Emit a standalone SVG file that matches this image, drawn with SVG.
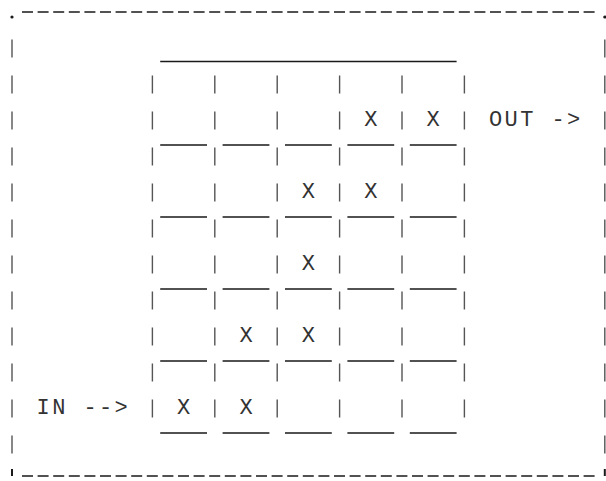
<svg xmlns="http://www.w3.org/2000/svg" width="606" height="481" viewBox="0 0 606 481">
<style>
.bg{fill:#fff}
.dash{stroke:#1a1a1a;stroke-width:1.6;stroke-dasharray:11 4.6;fill:none}
.pipe{stroke:#555;stroke-width:1.4;stroke-dasharray:18 18;fill:none}
.bar{stroke:#1a1a1a;stroke-width:1.5;fill:none}
.tick{stroke:#1a1a1a;stroke-width:2;fill:none}
.over{stroke:#1a1a1a;stroke-width:1.5;stroke-dasharray:46.8 15.6;fill:none}
.t{font-family:"Liberation Mono","DejaVu Sans Mono",monospace;font-size:22px;fill:#333;text-anchor:middle}
</style>
<rect class="bg" width="606" height="481"/>
<g id="frame">
  <line class="dash" x1="22" y1="12" x2="594.6" y2="12"/>
  <line class="dash" x1="22" y1="476" x2="594.6" y2="476"/>
  <circle cx="12" cy="17" r="1.6" fill="#1a1a1a"/>
  <circle cx="604.8" cy="17" r="1.6" fill="#1a1a1a"/>
  <line class="tick" x1="12" y1="469" x2="12" y2="476"/>
  <line class="tick" x1="604.8" y1="469" x2="604.8" y2="476"/>
  <line class="pipe" x1="12" y1="39.5" x2="12" y2="453.5"/>
  <line class="pipe" x1="604.8" y1="39.5" x2="604.8" y2="453.5"/>
</g>
<g id="grid">
  <line class="bar" x1="160.2" y1="61.5" x2="456.6" y2="61.5"/>
  <line class="over" x1="160.2" y1="145" x2="456.6" y2="145"/>
  <line class="over" x1="160.2" y1="217" x2="456.6" y2="217"/>
  <line class="over" x1="160.2" y1="289" x2="456.6" y2="289"/>
  <line class="over" x1="160.2" y1="361" x2="456.6" y2="361"/>
  <line class="over" x1="160.2" y1="433" x2="456.6" y2="433"/>
  <line class="pipe" x1="152.4" y1="75.5" x2="152.4" y2="417.5"/>
  <line class="pipe" x1="214.8" y1="75.5" x2="214.8" y2="417.5"/>
  <line class="pipe" x1="277.2" y1="75.5" x2="277.2" y2="417.5"/>
  <line class="pipe" x1="339.6" y1="75.5" x2="339.6" y2="417.5"/>
  <line class="pipe" x1="402" y1="75.5" x2="402" y2="417.5"/>
  <line class="pipe" x1="464.4" y1="75.5" x2="464.4" y2="417.5"/>
</g>
<g id="cell-r1c4"><text class="t" x="370.8" y="125.5">X</text></g>
<g id="cell-r1c5"><text class="t" x="433.2" y="125.5">X</text></g>
<g id="cell-r2c3"><text class="t" x="308.4" y="197.5">X</text></g>
<g id="cell-r2c4"><text class="t" x="370.8" y="197.5">X</text></g>
<g id="cell-r3c3"><text class="t" x="308.4" y="269.5">X</text></g>
<g id="cell-r4c2"><text class="t" x="246" y="341.5">X</text></g>
<g id="cell-r4c3"><text class="t" x="308.4" y="341.5">X</text></g>
<g id="cell-r5c1"><text class="t" x="183.6" y="413.5">X</text></g>
<g id="cell-r5c2"><text class="t" x="246" y="413.5">X</text></g>
<g id="in-label"><text class="t" x="43.2 58.8" y="413.5">IN</text></g>
<g id="out-label"><text class="t" x="495.6 511.2 526.8" y="125.5">OUT</text></g>
<g id="connectors">
  <text class="t" x="90 105.6 121.2" y="413.5">--&gt;</text>
  <text class="t" x="558 573.6" y="125.5">-&gt;</text>
</g>
</svg>
